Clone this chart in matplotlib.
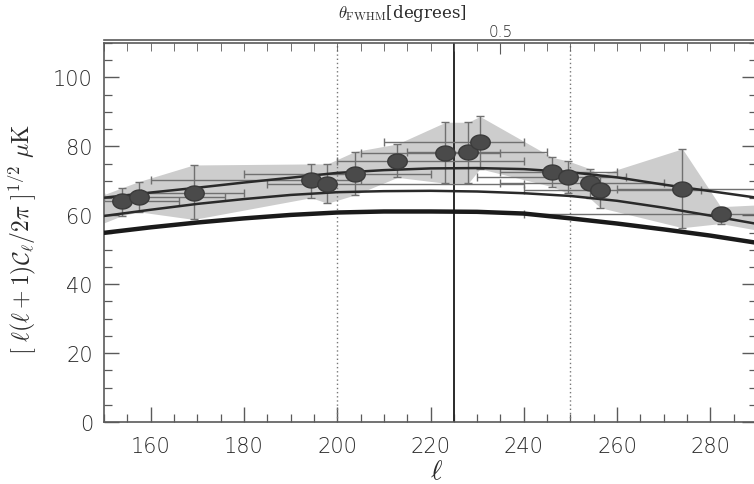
import numpy as np
import matplotlib
matplotlib.use("Agg")
import matplotlib.pyplot as plt
from matplotlib.path import Path
from matplotlib.ticker import MultipleLocator, FixedLocator

# ---- band powers: multipole, amplitude and error-bar ends (uK) ----
ell      = [153.9, 157.5, 169.2, 194.4, 197.9, 203.8, 212.9, 223.2, 228.1, 230.6,
            246.1, 249.4, 254.2, 256.4, 274.0, 282.2]
dT       = [64.0, 65.4, 66.6, 70.1, 69.1, 72.1, 75.8, 78.2, 78.3, 81.2,
            72.7, 71.0, 69.3, 67.2, 67.7, 60.3]
dT_lo    = [59.9, 61.0, 58.8, 65.1, 63.5, 65.9, 71.0, 69.3, 69.3, 73.5,
            68.3, 66.4, 64.9, 62.2, 56.4, 57.6]
dT_hi    = [68.0, 69.8, 74.6, 74.9, 74.9, 78.5, 80.7, 87.0, 87.0, 88.7,
            76.8, 75.8, 73.5, 71.7, 79.3, 62.5]
ell_lo   = [147, 150, 158, 160, 185, 180, 200, 205, 215, 210,
            235, 230, 235, 240, 260, 240]
ell_hi   = [166, 176, 180, 205, 240, 220, 240, 235, 245, 240,
            260, 262, 270, 278, 295, 300]

# band envelope continues past the plotted range on both sides
edge_ell = [150, 290]
edge_lo  = [57.8, 55.7]
edge_hi  = [66.0, 63.0]

# ---- model spectra ----
model_ell = [150, 160, 170, 180, 190, 200, 210, 220, 230, 240, 250, 260, 270, 280, 290]
model_a   = [65.1, 66.6, 68.0, 69.5, 70.9, 72.3, 73.1, 73.6, 73.7, 73.4, 72.5, 71.0, 68.9, 67.0, 65.1]
model_b   = [59.8, 61.6, 63.3, 64.7, 65.9, 66.7, 67.0, 67.1, 66.9, 66.4, 65.6, 64.2, 62.2, 59.9, 57.5]
model_c   = [54.9, 56.5, 57.9, 59.1, 60.1, 60.8, 61.1, 61.1, 61.0, 60.5, 59.1, 57.6, 55.9, 54.1, 52.0]

# top axis: beam FWHM
fwhm_ell    = [235]
fwhm_labels = ["0.5"]

x_ticks = [160, 180, 200, 220, 240, 260, 280]
y_ticks = [0, 20, 40, 60, 80, 100]

plt.rcParams["font.family"] = ["DejaVu Sans"]
plt.rcParams["font.weight"] = "light"
plt.rcParams["mathtext.fontset"] = "cm"

fig = plt.figure(figsize=(7.54, 4.85), dpi=100)
ax = fig.add_axes([104 / 754, 1 - 423 / 485, 653 / 754, 379 / 485])
ax.set_xlim(150, 290)
ax.set_ylim(0, 110)

axis_col = "#5a5a5a"
text_col = "#2a2a2a"

# shaded envelope through the error-bar ends
band_x = [edge_ell[0]] + ell + [edge_ell[1]]
band_lo = [edge_lo[0]] + dT_lo + [edge_lo[1]]
band_hi = [edge_hi[0]] + dT_hi + [edge_hi[1]]
ax.fill_between(band_x, band_lo, band_hi, color="#cdcdcd", lw=0, zorder=1)

# reference lines
ax.axvline(200, color="#777777", lw=1.0, ls=(0, (1, 2)), zorder=2)
ax.axvline(250, color="#777777", lw=1.0, ls=(0, (1, 2)), zorder=2)
ax.axvline(225, color="#2a2a2a", lw=1.4, zorder=2)

# error bars
x = np.array(ell)
y = np.array(dT)
yerr = [y - np.array(dT_lo), np.array(dT_hi) - y]
xerr = [x - np.array(ell_lo), np.array(ell_hi) - x]
ax.errorbar(x, y, xerr=xerr, yerr=yerr, fmt="none", ecolor="#707070",
            elinewidth=1.0, capsize=3, capthick=1.0, zorder=3)

# model curves
ax.plot(model_ell, model_a, color="#2a2a2a", lw=1.8, zorder=4)
ax.plot(model_ell, model_b, color="#2a2a2a", lw=1.8, zorder=4)
ax.plot(model_ell, model_c, color="#1a1a1a", lw=3.2, zorder=4)

# slightly flattened disc markers
t = np.linspace(0, 2 * np.pi, 60)
ellipse = Path(np.column_stack([1.3 * np.cos(t), np.sin(t)]), closed=True)
ax.plot(x, y, ls="none", marker=ellipse, markersize=14,
        markerfacecolor="#4a4a4a", markeredgecolor="#3a3a3a", zorder=5)

# axes styling
for side in ["left", "right", "bottom", "top"]:
    ax.spines[side].set_color(axis_col)
    ax.spines[side].set_linewidth(1.2)

ax.xaxis.set_major_locator(FixedLocator(x_ticks))
ax.xaxis.set_minor_locator(MultipleLocator(5))
ax.yaxis.set_major_locator(FixedLocator(y_ticks))
ax.yaxis.set_minor_locator(MultipleLocator(5))
ax.tick_params(which="both", direction="in", colors=axis_col,
               labelcolor=text_col, top=False, right=True)
ax.tick_params(which="major", length=11, width=1.0, labelsize=15, pad=10)
ax.tick_params(which="minor", length=6, width=0.9)
ax.tick_params(axis="y", which="major", pad=8)

# top axis with beam scale
top = ax.twiny()
top.set_xlim(ax.get_xlim())
top.xaxis.set_major_locator(FixedLocator(fwhm_ell))
top.xaxis.set_major_formatter(plt.FixedFormatter(fwhm_labels))
top.xaxis.set_minor_locator(MultipleLocator(5))
top.tick_params(which="both", direction="in", colors=axis_col, labelcolor=text_col)
top.tick_params(which="major", length=8, labelsize=11, pad=3)
top.tick_params(which="minor", length=6)
for side in ["left", "right", "bottom", "top"]:
    top.spines[side].set_visible(False)
ax.plot([150, 290], [110.9, 110.9], color=axis_col, lw=1.2, clip_on=False, zorder=6)

fig.text(402 / 754, 1 - 14 / 485, r"$\theta_{\rm FWHM}$[degrees]", ha="center",
         va="center", fontsize=12, color=text_col, family="DejaVu Serif")

# axis titles
fig.text(437 / 754, 1 - 471 / 485, r"$\ell$", ha="center", va="center",
         fontsize=20, color=text_col)
fig.text(22 / 754, 1 - 240 / 485,
         r"$\left[\ \ell(\ell+1)\mathcal{C}_\ell/2\pi\ \right]^{1/2}\ \mu{\rm K}$",
         rotation=90, ha="center", va="center", fontsize=17, color=text_col)

fig.savefig("out.png", dpi=100)
